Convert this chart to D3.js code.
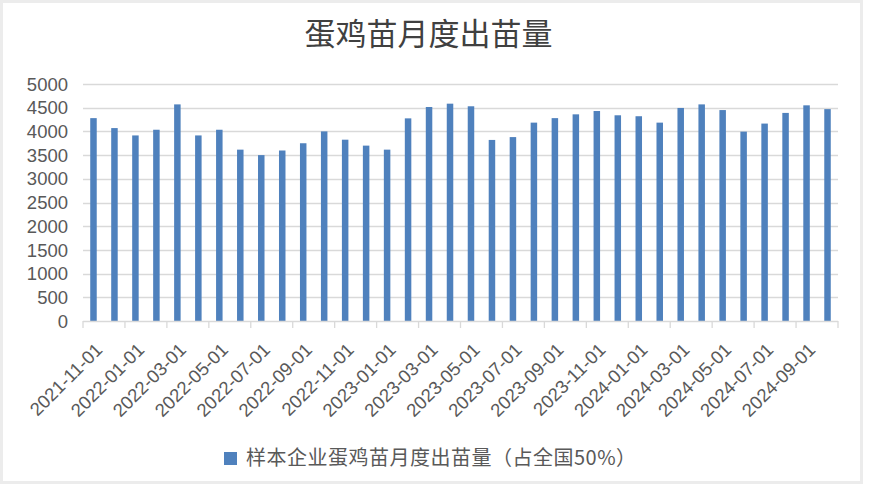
<!DOCTYPE html>
<html>
<head>
<meta charset="utf-8">
<script src="https://cdn.jsdelivr.net/npm/d3@7"></script>
<style>
  html, body { margin: 0; padding: 0; background: #fff; }
  svg { display: block; }
</style>
</head>
<body>
<svg id="chart" width="871" height="486"></svg>
<script>
const months = [
  "2021-11-01","2021-12-01",
  "2022-01-01","2022-02-01","2022-03-01","2022-04-01","2022-05-01","2022-06-01",
  "2022-07-01","2022-08-01","2022-09-01","2022-10-01","2022-11-01","2022-12-01",
  "2023-01-01","2023-02-01","2023-03-01","2023-04-01","2023-05-01","2023-06-01",
  "2023-07-01","2023-08-01","2023-09-01","2023-10-01","2023-11-01","2023-12-01",
  "2024-01-01","2024-02-01","2024-03-01","2024-04-01","2024-05-01","2024-06-01",
  "2024-07-01","2024-08-01","2024-09-01","2024-10-01"
];
const values = [
  4280, 4070,
  3915, 4035, 4570, 3915, 4035, 3615,
  3500, 3597, 3750, 4000, 3825, 3700,
  3615, 4275, 4515, 4585, 4530, 3820,
  3880, 4185, 4280, 4360, 4430, 4340,
  4320, 4185, 4495, 4570, 4450, 3995,
  4165, 4390, 4550, 4470
];
const yTicks = [0, 500, 1000, 1500, 2000, 2500, 3000, 3500, 4000, 4500, 5000];
const titleText = "蛋鸡苗月度出苗量";
const legendText = "样本企业蛋鸡苗月度出苗量（占全国50%）";

const svg = d3.select("#chart");
const plot = { left: 83, right: 838, top: 84, bottom: 321 };
const numFont = "'Liberation Sans', Arial, sans-serif";
const cjkFont = "'Noto Sans CJK SC', sans-serif";

// frame
svg.append("rect").attr("x", 1.5).attr("y", 1.5).attr("width", 860).attr("height", 481)
  .attr("fill", "#fff").attr("stroke", "#ececec").attr("stroke-width", 3);

const x = d3.scaleBand().domain(months).range([plot.left, plot.right]).padding(0);
const y = d3.scaleLinear().domain([0, 5000]).range([plot.bottom, plot.top]);

// gridlines
svg.append("g").selectAll("line").data(yTicks.filter(d => d > 0)).join("line")
  .attr("x1", plot.left).attr("x2", plot.right)
  .attr("y1", d => Math.round(y(d)) + 0.5).attr("y2", d => Math.round(y(d)) + 0.5)
  .attr("stroke", "#d9d9d9").attr("stroke-width", 1.3);

// y labels
svg.append("g").selectAll("text").data(yTicks).join("text")
  .attr("x", 68).attr("y", d => y(d))
  .attr("dy", "0.36em")
  .attr("text-anchor", "end")
  .attr("font-family", numFont).attr("font-size", 18.5).attr("fill", "#595959")
  .text(d => d);

// bars
const bw = 6.5;
svg.append("g").selectAll("rect").data(months).join("rect")
  .attr("x", (d) => x(d) + x.bandwidth() / 2 - bw / 2)
  .attr("width", bw)
  .attr("y", (d, i) => y(values[i]))
  .attr("height", (d, i) => y(0) - y(values[i]))
  .attr("fill", "#4f81bd");

// x axis line
svg.append("line").attr("x1", plot.left).attr("x2", plot.right)
  .attr("y1", plot.bottom + 0.5).attr("y2", plot.bottom + 0.5)
  .attr("stroke", "#d9d9d9").attr("stroke-width", 1.3);

// ticks every 2 categories at boundaries
const tickIdx = d3.range(0, months.length + 1, 2);
svg.append("g").selectAll("line").data(tickIdx).join("line")
  .attr("x1", i => (i < months.length ? x(months[i]) : plot.right))
  .attr("x2", i => (i < months.length ? x(months[i]) : plot.right))
  .attr("y1", plot.bottom).attr("y2", plot.bottom + 7)
  .attr("stroke", "#d9d9d9").attr("stroke-width", 1.3);

// x labels
svg.append("g").selectAll("text").data(months.filter((d, i) => i % 2 === 0)).join("text")
  .attr("transform", d => `translate(${x(d) + x.bandwidth() / 2 + 10},${plot.bottom + 30}) rotate(-45)`)
  .attr("text-anchor", "end")
  .attr("font-family", numFont).attr("font-size", 18.5).attr("fill", "#595959")
  .text(d => d);

// title
svg.append("text").attr("x", 428.5).attr("y", 45)
  .attr("text-anchor", "middle")
  .attr("font-family", cjkFont).attr("font-size", 31).attr("fill", "#404040")
  .text(titleText);

// legend
svg.append("rect").attr("x", 224).attr("y", 452).attr("width", 13).attr("height", 13)
  .attr("fill", "#4f81bd");
svg.append("text").attr("x", 246).attr("y", 458).attr("dy", "0.36em")
  .attr("font-family", cjkFont).attr("font-size", 20).attr("fill", "#595959")
  .attr("letter-spacing", 0.5)
  .text(legendText);
</script>
</body>
</html>
